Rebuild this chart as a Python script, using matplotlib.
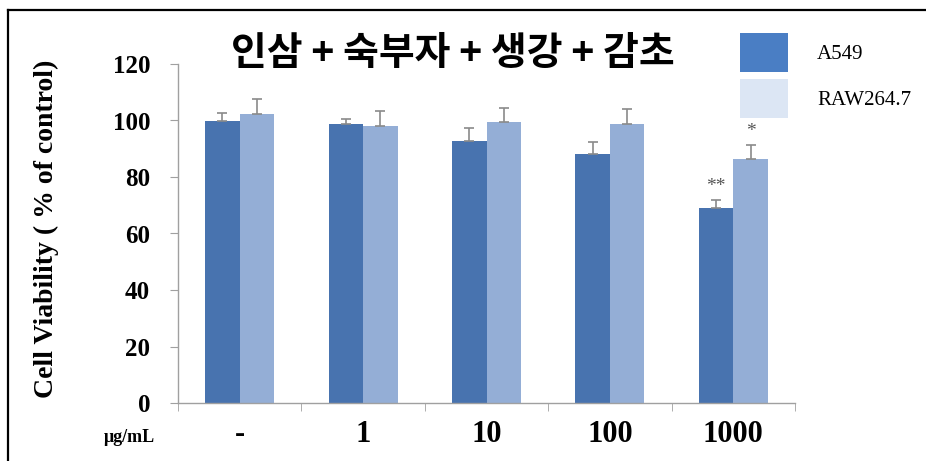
import numpy as np
import matplotlib.pyplot as plt
from matplotlib.patches import Patch
from matplotlib.lines import Line2D

# data
doses = ['-', '1', '10', '100', '1000']
a549 = [99.9, 98.9, 92.8, 88.3, 69.0]
a549_err = [2.9, 1.6, 4.4, 4.1, 2.7]
raw = [102.2, 97.9, 99.5, 98.7, 86.3]
raw_err = [5.3, 5.3, 5.1, 5.3, 4.9]
a549_sig = ['', '', '', '', '**']
raw_sig = ['', '', '', '', '*']
yticks = [0, 20, 40, 60, 80, 100, 120]

dark = '#4873AF'
light = '#94AED6'
serif = 'Liberation Serif'

fig = plt.figure(figsize=(9.26, 4.61), dpi=100)
ax = fig.add_axes([178/926, 1-403/461, 617/926, 339/461])

x = np.arange(len(doses))
w = 0.28
ek = dict(ecolor='#8a8a8a', elinewidth=1.2, capsize=3.5, capthick=1.2)
ax.bar(x - w/2, a549, w, color=dark, yerr=[np.zeros(5), a549_err], error_kw=ek)
ax.bar(x + w/2, raw, w, color=light, yerr=[np.zeros(5), raw_err], error_kw=ek)

for i in range(len(doses)):
    if a549_sig[i]:
        ax.text(x[i] - w/2, a549[i] + a549_err[i] + 2.0, a549_sig[i], ha='center', va='bottom',
                fontsize=14, color='#555555', family=serif)
    if raw_sig[i]:
        ax.text(x[i] + w/2, raw[i] + raw_err[i] + 2.0, raw_sig[i], ha='center', va='bottom',
                fontsize=14, color='#555555', family=serif)

ax.set_xlim(-0.5, len(doses) - 0.5)
ax.set_ylim(0, 120)
ax.set_yticks(yticks)
ax.set_yticklabels([str(t) for t in yticks], family=serif, fontweight='bold', fontsize=18)
ax.set_xticks(x)
ax.set_xticklabels(doses, family=serif, fontweight='bold', fontsize=22)
ax.set_xticks(np.arange(-0.5, len(doses), 1), minor=True)
ax.tick_params(axis='x', which='major', length=0, pad=12)
ax.tick_params(axis='x', which='minor', length=6, color='#a0a0a0', direction='out')
ax.tick_params(axis='y', length=6, color='#a0a0a0', pad=14)
for s in ['top', 'right']:
    ax.spines[s].set_visible(False)
for s in ['left', 'bottom']:
    ax.spines[s].set_color('#a0a0a0')
    ax.spines[s].set_linewidth(1.0)

fig.text(453/926, 1-53/461, '인삼 + 숙부자 + 생강 + 감초', ha='center', va='center',
         fontsize=28, fontweight='bold', family=['Noto Sans CJK KR', 'DejaVu Sans'])
fig.text(46/926, 1-229/461, 'Cell Viability ( % of control)', rotation=90, ha='center', va='center',
         fontsize=20, fontweight='bold', family=serif)
fig.text(129/926, 1-437/461, 'μg/mL', ha='center', va='center', fontsize=13,
         fontweight='bold', family=serif)

handles = [Patch(facecolor='#4A7EC4', edgecolor='none'), Patch(facecolor='#DCE6F4', edgecolor='none')]
fig.legend(handles, ['A549', 'RAW264.7'], loc='upper left', bbox_to_anchor=(740/926, 1-33/461),
           frameon=False, borderpad=0, borderaxespad=0, handlelength=2.3, handleheight=2.5,
           handletextpad=1.4, labelspacing=0.35, prop={'family': serif, 'size': 15})

# frame lines on left and top
fig.add_artist(Line2D([8/926, 8/926], [0, 1-10/461], color='black', lw=1.6))
fig.add_artist(Line2D([8/926, 1], [1-10/461, 1-10/461], color='black', lw=1.6))

fig.savefig('out.png', dpi=100)
